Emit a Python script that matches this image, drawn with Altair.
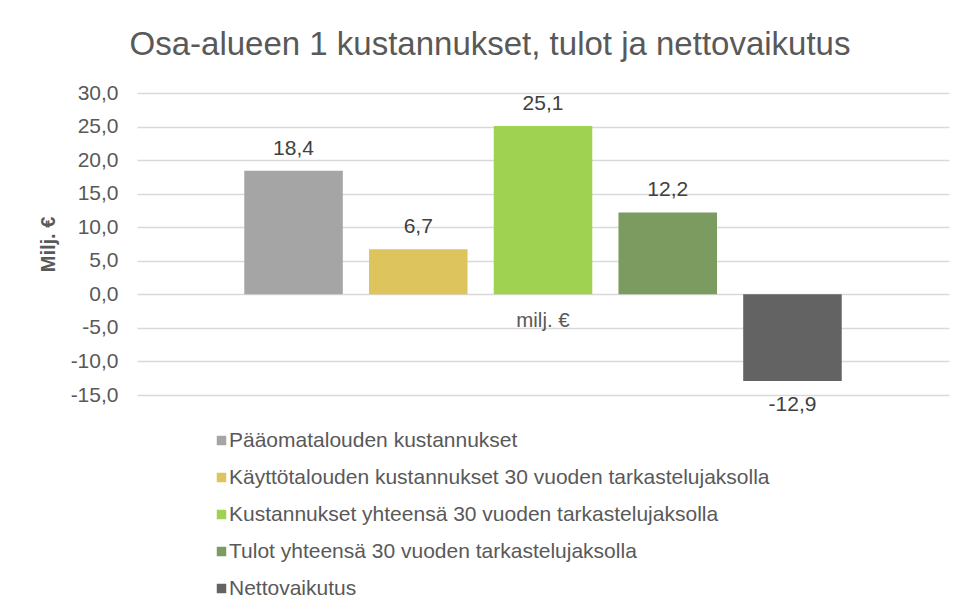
import altair as alt
import pandas as pd

title = "Osa-alueen 1 kustannukset, tulot ja nettovaikutus"
category = "milj. €"
series = [
    "Pääomatalouden kustannukset",
    "Käyttötalouden kustannukset 30 vuoden tarkastelujaksolla",
    "Kustannukset yhteensä 30 vuoden tarkastelujaksolla",
    "Tulot yhteensä 30 vuoden tarkastelujaksolla",
    "Nettovaikutus",
]
values = [18.4, 6.7, 25.1, 12.2, -12.9]
colors = ["#A5A5A5", "#DEC45C", "#9FD251", "#7B9B61", "#636363"]
y_ticks = [-15, -10, -5, 0, 5, 10, 15, 20, 25, 30]

df = pd.DataFrame({
    "cat": [category] * len(series),
    "series": series,
    "value": values,
    "label": [f"{v:.1f}".replace(".", ",") for v in values],
})

FONT = "Liberation Sans"
W, H = 812, 302

x_enc = alt.X(
    "cat:N",
    scale=alt.Scale(paddingInner=0, paddingOuter=0),
    axis=alt.Axis(
        title=None, domain=False, ticks=False, labelAngle=0, offset=-101,
        labelPadding=16, labelFontSize=20.5, labelColor="#595959", labelFont=FONT,
    ),
)
xoff_enc = alt.XOffset(
    "series:N", sort=series,
    scale=alt.Scale(domain=series, paddingInner=0.21, paddingOuter=0.86),
)
y_enc = alt.Y(
    "value:Q",
    scale=alt.Scale(domain=[-15, 30], nice=False),
    axis=alt.Axis(
        title="Milj. €", values=y_ticks, tickCount=len(y_ticks) + 2,
        domain=False, ticks=False, labelOverlap=False,
        labelExpr="replace(replace(format(datum.value, '.1f'), '.', ','), '\u2212', '-')",
        labelPadding=19, labelFontSize=21, labelColor="#595959", labelFont=FONT,
        titleFontSize=20, titleFontWeight="bold", titleColor="#595959", titleFont=FONT,
        titlePadding=12,
        grid=True, gridColor="#D9D9D9", gridWidth=1.5,
    ),
)

base = alt.Chart(df)

bars = base.mark_bar().encode(
    x=x_enc,
    xOffset=xoff_enc,
    y=y_enc,
    color=alt.Color(
        "series:N", sort=series,
        scale=alt.Scale(domain=series, range=colors),
        legend=alt.Legend(
            title=None, orient="none", legendX=74, legendY=337, direction="vertical",
            symbolType="square", symbolSize=90, symbolStrokeWidth=0,
            labelFontSize=21, labelColor="#595959", labelFont=FONT,
            labelOffset={"expr": "-3"}, rowPadding=15, padding=0, labelLimit=700,
        ),
    ),
)

pos_labels = base.transform_filter("datum.value >= 0").mark_text(
    baseline="middle", dy=-22, fontSize=21, color="#404040", font=FONT
).encode(x=x_enc, xOffset=xoff_enc, y=y_enc, text="label:N")

neg_labels = base.transform_filter("datum.value < 0").mark_text(
    baseline="middle", dy=24, fontSize=21, color="#404040", font=FONT
).encode(x=x_enc, xOffset=xoff_enc, y=y_enc, text="label:N")

chart = alt.layer(bars, pos_labels, neg_labels).properties(
    width=W,
    height=H,
    title=alt.TitleParams(
        text=title, fontSize=33, font=FONT, fontWeight="normal", color="#595959",
        anchor="middle", dx=-53, offset=20,
    ),
    autosize=alt.AutoSizeParams(type="none"),
    padding={"left": 129, "top": 85, "right": 5, "bottom": 208},
).configure(background="white").configure_view(stroke=None)

chart.save("out.html", embed_options={"renderer": "svg", "actions": False})
